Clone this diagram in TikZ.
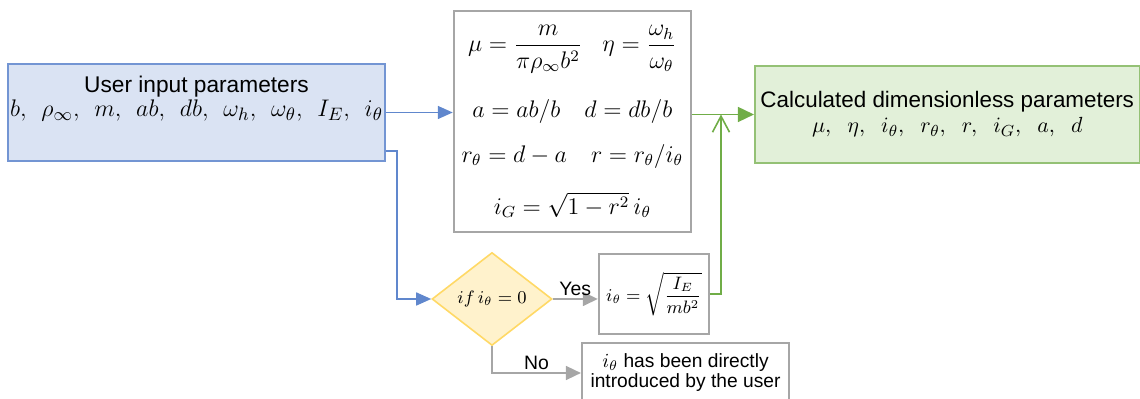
\documentclass[tikz,border=0pt]{standalone}
\usepackage{amsmath}
\usepackage{fontspec}
\setmainfont{Liberation Sans}
\usetikzlibrary{arrows.meta,positioning,shapes.geometric}
\definecolor{inblue}{HTML}{4472C4}
\definecolor{inbluefill}{HTML}{DAE3F3}
\definecolor{outgreen}{HTML}{70AD47}
\definecolor{outgreenfill}{HTML}{E2F0D9}
\definecolor{askgold}{HTML}{FFD966}
\definecolor{askfill}{HTML}{FFF2CC}
\definecolor{steel}{HTML}{A6A6A6}

\begin{document}
\begin{tikzpicture}[x=1pt, y=1pt,
  box/.style={draw=steel, line width=1.1pt, fill=white, align=center, inner sep=1pt},
  inbox/.style={box, draw=inblue!75, line width=0.8pt, fill=inbluefill,
              minimum width=187.5pt, minimum height=48.5pt, text depth=16pt,
              font=\fontsize{11.35}{12}\selectfont},
  outbox/.style={box, draw=outgreen!75, line width=0.8pt, fill=outgreenfill,
              minimum width=192.5pt, minimum height=48.5pt,
              font=\fontsize{11.2}{12.5}\selectfont},
  ask/.style={diamond, draw=askgold, fill=askfill, line width=0.8pt, inner sep=0pt,
              minimum width=60pt, minimum height=46.5pt, font=\fontsize{8.6}{10}\selectfont},
  barr/.style={-{Triangle[length=7.5pt, width=6.5pt]}, line width=0.8pt, draw=inblue!85},
  garr/.style={-{Triangle[length=8pt, width=7.5pt]}, line width=0.8pt, draw=outgreen},
  gbarb/.style={-{Straight Barb[length=8pt, width=8.5pt]}, line width=0.8pt, draw=outgreen},
  yarr/.style={-{Triangle[length=7.5pt, width=7pt]}, line width=0.8pt, draw=steel},
  lbl/.style={font=\fontsize{9.7}{11}\selectfont, inner sep=1.5pt}]
  \useasboundingbox (0,0) rectangle (570,-199.5);
  \node[inbox] (user) at (98.25,-56.25) {User input parameters\\
    {\fontsize{12.3}{14}\selectfont$b,\ \,\rho_\infty,\ \,m,\ \,ab,\ \,db,\ \,\omega_h,\ \,\omega_\theta,\ \,I_E,\ \,i_\theta$}};
  \node[box, right=33.5pt of user, yshift=-4.5pt, minimum width=118.5pt, minimum height=110.5pt,
        font=\fontsize{12}{14}\selectfont] (formula) {%
    $\mu=\dfrac{m}{\pi\rho_\infty b^2}\;\;\;\eta=\dfrac{\omega_h}{\omega_\theta}$\\[12pt]
    $a=ab/b\quad d=db/b$\\[8.5pt]
    $r_\theta=d-a\quad r=r_\theta/i_\theta$\\[12pt]
    $i_G=\sqrt{1-r^2}\,i_\theta$};
  \node[outbox, right=31pt of formula, yshift=3.5pt] (result) {Calculated dimensionless parameters\\
    $\mu,\ \ \eta,\ \ i_\theta,\ \ r_\theta,\ \ r,\ \ i_G,\ \ a,\ \ d$};
  \node[ask] (cond) at (246,-149.5) {$if\,i_\theta=0$};
  \node[box, right=22.5pt of cond, yshift=2.5pt, minimum width=55pt, minimum height=40pt,
        font=\fontsize{9.2}{11}\selectfont] (calc) {$i_\theta=\sqrt{\dfrac{I_E}{mb^2}}$};
  \node[box, minimum width=103.5pt, minimum height=30pt, font=\fontsize{9.6}{10}\selectfont]
        (direct) at (342.75,-186.5) {$i_\theta$ has been directly\\introduced by the user};
  \draw[barr] (user.east) -- (user.east -| formula.west);
  \draw[barr] ([yshift=5.5pt]user.south east) -- ++(5.5pt,0) |- (cond.west);
  \draw[yarr] (cond.east) -- node[lbl, above]{Yes} (cond.east -| calc.west);
  \draw[yarr] (cond.south) |- node[lbl, pos=0.75, above]{No} (direct.west);
  \draw[garr] (formula.east |- result.west) -- (result.west);
  \draw[gbarb] (calc.east) -- ++(5.5pt,0) coordinate (turn) -- (turn |- result.west);
\end{tikzpicture}
\end{document}
